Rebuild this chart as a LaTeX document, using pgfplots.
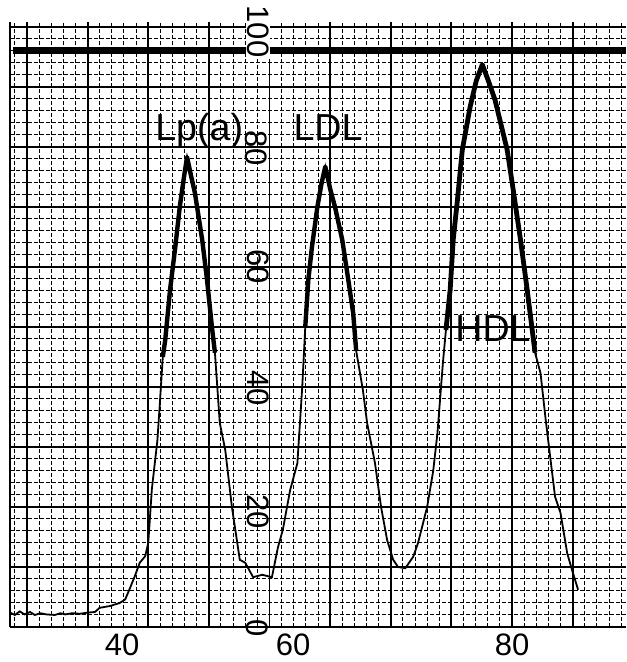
\documentclass[border=0pt]{standalone}
\usepackage{pgfplots}
\pgfplotsset{compat=1.18}
\usepackage{fontspec}
\setmainfont{Liberation Sans}
\begin{document}
\begin{tikzpicture}
\begin{axis}[
  scale only axis, width=308pt, height=302.5pt,
  xmin=-2.8, xmax=98.8, ymin=0, ymax=100.8,
  axis lines*=left, axis line style={-, black, line width=0.9pt},
  xtick={0,10,...,90}, xticklabels={},
  minor xtick={-2,0,...,98},
  ytick={0,10,...,100}, yticklabels={},
  minor ytick={0,2,...,100},
  grid=both,
  major grid style={black, line width=0.9pt},
  minor grid style={black, line width=0.5pt, dash pattern=on 2pt off 1pt},
  major tick length=0pt, minor tick length=0pt,
  extra x ticks={15.7,43.9,80},
  extra x tick labels={40,60,80},
  extra x tick style={grid=none},
  ticklabel style={font=\fontsize{15.5}{18}\selectfont},
  clip=false,
]
\coordinate (sw) at (rel axis cs:0,0);
\coordinate (ne) at (rel axis cs:1,1);
% reference line
\addplot[black, line width=3.5pt] coordinates {(-2.3,96) (98.8,96)};
% full trace
\addplot[black, line width=0.9pt] coordinates {
(-2.8,2.4) (-2.0,2.0) (-1.2,2.6) (-0.4,2.1) (0.5,2.5) (1.3,2.0) (2.2,2.3) (3.2,2.1)
(4.6,2.0) (5.5,2.3) (6.3,2.1) (7.5,2.3) (8.7,2.2) (10.0,2.4) (11.2,2.5)
(12.0,3.2) (13.7,3.5) (15.3,4.0) (16.2,4.6) (17.0,6.5) (17.8,8.5) (18.6,10.7)
(19.5,11.8) (20.0,14) (20.6,23) (21.5,31) (21.9,37) (22.4,45) (22.8,47.8)
(23.6,56.2) (24.4,62.8) (25.2,70) (25.9,75) (26.4,78.3) (27.1,75) (27.7,72.3)
(28.9,64.5) (29.7,57.8) (30.5,50) (31.0,45.7) (31.8,34) (32.7,29.5) (33.8,20)
(35.1,11.2) (36.0,10.7) (37.3,8.3) (38.8,8.7) (40.4,8.3) (41.4,13.3) (42.2,16.2)
(43.4,22.8) (44.6,27.3) (45.4,40) (45.9,50) (46.4,57.8) (47.0,63.3) (47.9,70)
(48.6,74) (49.2,76.7) (50.0,73) (50.8,70) (52.0,64.5) (53.0,57.8) (53.8,52.3)
(54.3,46) (55.4,39.5) (56.1,34) (57.4,27.3) (58.4,20) (59.4,14.5) (60.4,11.2)
(61.2,10) (62.4,9.8) (63.7,11.7) (64.5,14) (66.0,20) (67.0,26) (67.7,32.3)
(68.6,44) (69.1,49.5) (69.8,56.2) (70.3,64.5) (71.0,71.2) (71.8,79.5) (73.1,86.7)
(74.1,91) (75.1,93.7) (76.1,91) (77.2,87.8) (79.2,79.5) (80.2,72.8) (81.4,64.5)
(82.5,56.2) (83.8,45.7) (84.7,42.3) (85.5,35) (86.3,28.3) (87.1,21.7) (88.0,19)
(89.1,12.3) (89.9,9.5) (90.9,6.2)
};
% thick pen strokes at the peaks
\addplot[black, line width=2.2pt, line join=round] coordinates {
(22.4,45) (22.8,47.8) (23.6,56.2) (24.4,62.8) (25.2,70) (25.9,75) (26.4,78.3)
(27.1,75) (27.7,72.3) (28.9,64.5) (29.7,57.8) (30.5,50) (31.0,45.7)};
\addplot[black, line width=2.2pt, line join=round] coordinates {
(45.9,50) (46.4,57.8) (47.0,63.3) (47.9,70) (48.6,74) (49.2,76.7) (50.0,73)
(50.8,70) (52.0,64.5) (53.0,57.8) (53.8,52.3) (54.3,46)};
\addplot[black, line width=2.4pt, line join=round] coordinates {
(69.1,49.5) (69.8,56.2) (70.3,64.5) (71.0,71.2) (71.8,79.5) (73.1,86.7) (74.1,91)
(75.1,93.7) (76.1,91) (77.2,87.8) (79.2,79.5) (80.2,72.8) (81.4,64.5) (82.5,56.2)
(83.8,45.7)};
% peak names
\node[anchor=base west, inner sep=0pt, font=\fontsize{18.8}{22}\selectfont] at (axis cs:21.1,81.0) {Lp(a)};
\node[anchor=base west, inner sep=0pt, font=\fontsize{18.8}{22}\selectfont] at (axis cs:43.9,81.0) {LDL};
\node[anchor=base west, inner sep=0pt, font=\fontsize{18.8}{22}\selectfont] at (axis cs:70.6,47.5) {HDL};
% value scale written on the paper
\node[rotate=-90, font=\fontsize{15.5}{18}\selectfont, inner sep=0.6pt, fill=white] at (axis cs:38.1,99.2) {100};
\node[rotate=-90, font=\fontsize{15.5}{18}\selectfont, inner sep=0.5pt] at (axis cs:37.8,79.8) {80};
\node[rotate=-90, font=\fontsize{15.5}{18}\selectfont, inner sep=0.5pt] at (axis cs:38.1,60.0) {60};
\node[rotate=-90, font=\fontsize{15.5}{18}\selectfont, inner sep=0.5pt] at (axis cs:38.2,39.8) {40};
\node[rotate=-90, font=\fontsize{15.5}{18}\selectfont, inner sep=0.5pt] at (axis cs:38.2,19.2) {20};
\node[rotate=-90, font=\fontsize{15.5}{18}\selectfont, inner sep=0.5pt] at (axis cs:38.0,-0.2) {0};
\end{axis}
\pgfresetboundingbox
\path[use as bounding box] ([xshift=-5pt,yshift=-17.5pt]sw) rectangle ([yshift=11pt]ne);
\end{tikzpicture}
\end{document}
